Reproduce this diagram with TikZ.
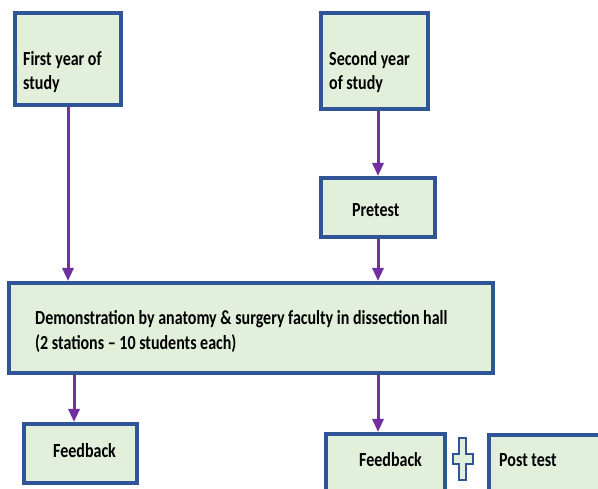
\documentclass[tikz,border=0pt]{standalone}
\usepackage{fontspec}
\usepackage{graphicx}
\setmainfont{Carlito}
\usetikzlibrary{arrows.meta}
\definecolor{boxblue}{RGB}{47,85,151}
\definecolor{boxfill}{RGB}{226,239,218}
\definecolor{arrpurple}{RGB}{112,48,160}
\newcommand\tallline[1]{\scalebox{1}[1.25]{#1}}
\tikzset{
  flowbox/.style={draw=boxblue, fill=boxfill, line width=4pt, inner sep=0pt, rectangle},
  lbl/.style={font=\bfseries\fontsize{16}{24}\selectfont, inner sep=0pt, align=left, text=black},
  arr/.style={draw=arrpurple, line width=3pt, -{Triangle[width=11pt,length=13pt]}},
  plusmark/.style={draw=boxblue, fill=boxfill, line width=1.3pt, line join=miter}
}
\begin{document}
\begin{tikzpicture}[x=1pt,y=-1pt]
\useasboundingbox (0,0) rectangle (598,489);
\clip (0,0) rectangle (598,489);
% boxes
\node[flowbox, minimum width=106pt, minimum height=92pt] (b1) at (68,59) {};
\node[flowbox, minimum width=107pt, minimum height=96pt] (b2) at (374.5,61) {};
\node[flowbox, minimum width=114pt, minimum height=59pt] (pre) at (378,207.5) {};
\node[flowbox, minimum width=484pt, minimum height=90pt] (demo) at (251,328) {};
\node[flowbox, minimum width=113pt, minimum height=59pt] (fb1) at (80.5,453.5) {};
\node[flowbox, minimum width=119pt, minimum height=61pt] (fb2) at (385.5,464.5) {};
\node[flowbox, minimum width=121pt, minimum height=60pt] (post) at (549.5,465) {};
% texts
\node[lbl, anchor=west] (t1) at (23,72.5) {\tallline{First year of}\\\tallline{study}};
\node[lbl, anchor=west] (t2) at (329,72) {\tallline{Second year}\\\tallline{of study}};
\node[lbl, anchor=base west] (tpre) at (352,217) {\tallline{Pretest}};
\node[lbl, anchor=west, font=\bfseries\fontsize{16}{25}\selectfont] (tdemo) at (35,331.5) {\tallline{Demonstration by anatomy \& surgery faculty in dissection hall}\\\tallline{(2 stations -- 10 students each)}};
\node[lbl, anchor=base west] (tfb1) at (53,458) {\tallline{Feedback}};
\node[lbl, anchor=base west] (tfb2) at (359,467) {\tallline{Feedback}};
\node[lbl, anchor=base west] (tpost) at (499,467) {\tallline{Post test}};
% plus sign
\draw[plusmark] (459,438) -- (466,438) -- (466,454) -- (473,454) -- (473,464) -- (466,464) -- (466,480) -- (459,480) -- (459,464) -- (453,464) -- (453,454) -- (459,454) -- cycle;
% arrows
\coordinate (xa) at (68,0);
\coordinate (xb) at (378,0);
\coordinate (xc) at (74,0);
\draw[arr] (b1.south -| xa) -- (demo.north -| xa);
\draw[arr] (b2.south -| xb) -- (pre.north -| xb);
\draw[arr] (pre.south -| xb) -- (demo.north -| xb);
\draw[arr] (demo.south -| xc) -- (fb1.north -| xc);
\draw[arr] (demo.south -| xb) -- (fb2.north -| xb);
\end{tikzpicture}
\end{document}
